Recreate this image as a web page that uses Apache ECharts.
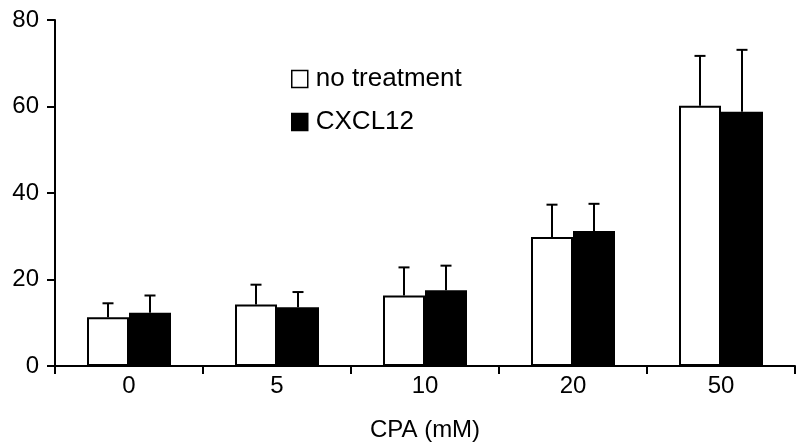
<!DOCTYPE html>
<html><head><meta charset="utf-8">
<script src="https://cdn.jsdelivr.net/npm/echarts@6/dist/echarts.min.js"></script>
<style>html,body{margin:0;padding:0;background:#fff}#c{width:800px;height:447px}</style>
</head><body><div id="c"></div>
<script>
const categories = ['0', '5', '10', '20', '50'];
const noTreatment = [11.3, 14.2, 16.3, 29.8, 60.2];
const noTreatmentErr = [3.2, 4.6, 6.5, 7.5, 11.5];
const cxcl12 = [12.3, 13.6, 17.5, 31.2, 58.8];
const cxcl12Err = [4.0, 3.5, 5.7, 6.3, 14.3];
const yTicks = [0, 20, 40, 60, 80];

const FONT = 'Liberation Sans, Arial, Helvetica, sans-serif';
const BAR_W = 42;

function errSeries(vals, errs, sign) {
  return {
    type: 'custom',
    silent: true,
    z: 1,
    data: vals.map((v, i) => [i, v, v + errs[i]]),
    renderItem: function (params, api) {
      const base = api.coord([api.value(0), api.value(1)]);
      const top = api.coord([api.value(0), api.value(2)]);
      const x = base[0] + sign * BAR_W / 2;
      const cap = 5.5;
      const st = { stroke: '#000', lineWidth: 2, fill: null };
      return {
        type: 'group',
        children: [
          { type: 'line', shape: { x1: x, y1: base[1], x2: x, y2: top[1] }, style: st },
          { type: 'line', shape: { x1: x - cap, y1: top[1], x2: x + cap, y2: top[1] }, style: st }
        ]
      };
    }
  };
}

const chart = echarts.init(document.getElementById('c'), null, { renderer: 'canvas' });
chart.setOption({
  animation: false,
  backgroundColor: '#fff',
  textStyle: { fontFamily: FONT, color: '#000' },
  grid: { left: 55, right: 5, top: 20, bottom: 80, containLabel: false },
  legend: {
    left: 286, top: 61, orient: 'vertical',
    itemWidth: 16, itemHeight: 17, itemGap: 17,
    icon: 'rect',
    textStyle: { fontFamily: FONT, fontSize: 26, color: '#000', padding: [0, 0, 0, 3], lineHeight: 26 },
    data: [
      { name: 'no treatment', itemStyle: { color: '#fff', borderColor: '#000', borderWidth: 1.5 } },
      { name: 'CXCL12', itemStyle: { color: '#000', borderColor: '#000', borderWidth: 1.5 } }
    ]
  },
  xAxis: {
    type: 'category', data: categories,
    name: 'CPA (mM)', nameLocation: 'middle', nameGap: 52,
    nameTextStyle: { fontFamily: FONT, fontSize: 24, color: '#000' },
    axisLine: { lineStyle: { color: '#000', width: 2 } },
    axisTick: { show: true, length: 8, lineStyle: { color: '#000', width: 2 } },
    axisLabel: { fontFamily: FONT, fontSize: 24, color: '#000', margin: 8 }
  },
  yAxis: {
    type: 'value', min: yTicks[0], max: yTicks[yTicks.length - 1], interval: 20,
    splitLine: { show: false },
    axisLine: { show: true, lineStyle: { color: '#000', width: 2 } },
    axisTick: { show: true, length: 8, lineStyle: { color: '#000', width: 2 } },
    axisLabel: { fontFamily: FONT, fontSize: 24, color: '#000', margin: 16 }
  },
  series: [
    errSeries(noTreatment, noTreatmentErr, -1),
    errSeries(cxcl12, cxcl12Err, 1),
    {
      name: 'no treatment', type: 'bar', data: noTreatment, barWidth: BAR_W, barGap: '0%', z: 2,
      itemStyle: { color: '#fff', borderColor: '#000', borderWidth: 2 }
    },
    {
      name: 'CXCL12', type: 'bar', data: cxcl12, barWidth: BAR_W, barGap: '0%', z: 2,
      itemStyle: { color: '#000', borderColor: '#000', borderWidth: 2 }
    }
  ]
});
</script></body></html>
